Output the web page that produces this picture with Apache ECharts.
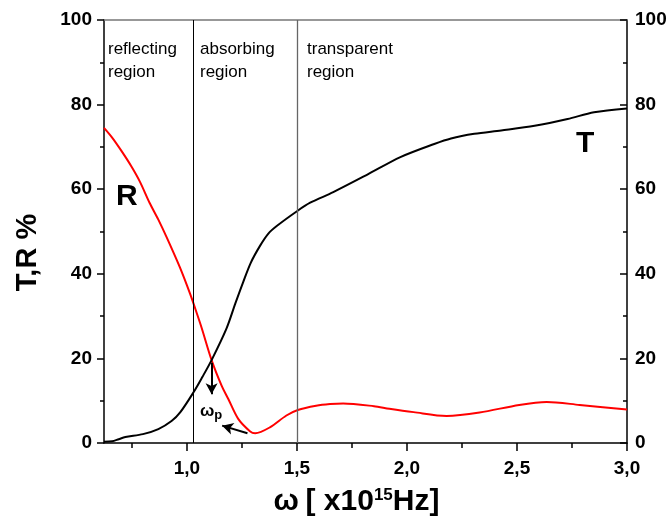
<!DOCTYPE html>
<html><head><meta charset="utf-8">
<script src="https://cdn.jsdelivr.net/npm/echarts@6/dist/echarts.min.js"></script>
<style>html,body{margin:0;padding:0;background:#fff}#c{width:672px;height:522px}</style>
</head><body><div id="c"></div>
<script>
// Transmission T (black)
const tX = [0.623,0.66,0.69,0.72,0.80,0.87,0.93,0.97,1.03,1.07,1.112,1.18,1.22,1.256,1.29,1.332,1.37,1.408,1.50,1.56,1.665,1.818,1.97,2.124,2.2,2.306,2.428,2.58,2.73,2.85,3.0];
const tY = [0.3,0.4,0.9,1.4,2.1,3.3,5.2,7.3,12.0,15.6,19.6,27.1,33.0,38.1,42.6,46.6,49.5,51.3,54.8,56.8,59.3,63.4,67.6,70.7,72.0,73.1,73.9,75.0,76.6,78.2,79.1];
// Reflection R (red)
const rX = [0.623,0.66,0.703,0.745,0.786,0.83,0.87,0.908,0.968,1.014,1.044,1.067,1.112,1.158,1.188,1.233,1.286,1.31,1.377,1.452,1.504,1.587,1.65,1.71,1.85,1.92,2.03,2.18,2.33,2.51,2.635,2.785,3.0];
const rY = [74.5,72.2,69.0,65.6,61.8,56.8,52.8,48.6,41.5,35.3,30.8,27.2,19.6,13.5,10.4,5.7,2.8,2.3,3.7,6.5,7.8,8.8,9.2,9.35,8.7,8.1,7.3,6.4,7.2,9.0,9.7,9.0,7.9];
const xMajorTicks = [1.0,1.5,2.0,2.5,3.0];
const xMinorTicks = [0.75,1.25,1.75,2.25,2.75];
const regionBounds = [1.033,1.5];
const regionNames = ['reflecting\nregion','absorbing\nregion','transparent\nregion'];
const plasmaArrow = [[1.112,19.0],[1.112,11.5]];
const minArrow = [[1.275,2.3],[1.16,4.1]];

const FONT = 'Liberation Sans, Arial, sans-serif';
const chart = echarts.init(document.getElementById('c'));
const xMin = 0.623, xMax = 3.0;
const lbl = {color:'#000', fontFamily:FONT, fontWeight:'bold', fontSize:19};

chart.setOption({
  animation:false,
  backgroundColor:'#fff',
  grid:{left:104,right:45,top:20,bottom:76},
  xAxis:[
    {type:'value',min:xMin,max:xMax,position:'bottom',
     axisLine:{lineStyle:{color:'#000',width:1.5}},
     axisTick:{customValues:xMajorTicks,length:8,lineStyle:{color:'#000',width:1.5}},
     axisLabel:Object.assign({customValues:xMajorTicks,margin:16,formatter:v=>v.toFixed(1).replace('.',',')},lbl),
     splitLine:{show:false},
     name:'{w|ω}  {b|[ x10}{s|15}{b|Hz]}',nameLocation:'middle',nameGap:44,
     nameTextStyle:{padding:[0,18,0,0],rich:{
       w:{fontFamily:FONT,fontWeight:'bold',fontSize:30,color:'#000'},
       b:{fontFamily:FONT,fontWeight:'bold',fontSize:30,color:'#000'},
       s:{fontFamily:FONT,fontWeight:'bold',fontSize:17,color:'#000',verticalAlign:'top'}}}},
    {type:'value',min:xMin,max:xMax,position:'bottom',
     axisLine:{show:false},
     axisTick:{customValues:xMinorTicks,length:5,lineStyle:{color:'#000',width:1.5}},
     axisLabel:{show:false},splitLine:{show:false}},
    {type:'value',min:xMin,max:xMax,position:'top',
     axisLine:{lineStyle:{color:'#777',width:1.5}},
     axisTick:{show:false},axisLabel:{show:false},splitLine:{show:false}}
  ],
  yAxis:[
    {type:'value',min:0,max:100,interval:20,position:'left',
     axisLine:{show:true,lineStyle:{color:'#000',width:1.5}},
     axisTick:{show:true,length:7,lineStyle:{color:'#000',width:1.5}},
     minorTick:{show:true,splitNumber:2,length:4,lineStyle:{color:'#000',width:1.5}},
     axisLabel:Object.assign({margin:12},lbl),
     splitLine:{show:false},
     name:'T,R %',nameLocation:'middle',nameGap:62,
     nameTextStyle:{fontFamily:FONT,fontWeight:'bold',fontSize:29,color:'#000',padding:[0,42,0,0]}},
    {type:'value',min:0,max:100,interval:20,position:'right',
     axisLine:{show:true,lineStyle:{color:'#000',width:1.5}},
     axisTick:{show:true,inside:true,length:7,lineStyle:{color:'#000',width:1.5}},
     minorTick:{show:true,splitNumber:2,length:4,lineStyle:{color:'#000',width:1.5}},
     axisLabel:Object.assign({margin:8},lbl),
     splitLine:{show:false}}
  ],
  series:[
    {type:'line',name:'T',data:tX.map((x,i)=>[x,tY[i]]),smooth:0.3,showSymbol:false,
     lineStyle:{color:'#000',width:2},itemStyle:{color:'#000'},z:3,
     markLine:{silent:true,symbol:['none','arrow'],symbolSize:[9,11],animation:false,
       lineStyle:{color:'#000',width:2,type:'solid'},label:{show:false},
       data:[[{coord:plasmaArrow[0]},{coord:plasmaArrow[1]}],[{coord:minArrow[0]},{coord:minArrow[1]}]]}},
    {type:'line',name:'R',data:rX.map((x,i)=>[x,rY[i]]),smooth:0.3,showSymbol:false,
     lineStyle:{color:'#ff0000',width:2},itemStyle:{color:'#ff0000'},z:2,
     markLine:{silent:true,symbol:['none','none'],animation:false,
       lineStyle:{color:'#000',width:1,type:'solid'},label:{show:false},
       data:regionBounds.map((v,i)=>({xAxis:v,lineStyle:{color:i===0?'#000':'#666',width:i===0?1:1.3}}))}}
  ],
  graphic:[
    {type:'text',left:108,top:38,style:{text:regionNames[0],font:'17px '+FONT,fill:'#000',lineHeight:23}},
    {type:'text',left:200,top:38,style:{text:regionNames[1],font:'17px '+FONT,fill:'#000',lineHeight:23}},
    {type:'text',left:307,top:38,style:{text:regionNames[2],font:'17px '+FONT,fill:'#000',lineHeight:23}},
    {type:'text',left:116,top:182,style:{text:'R',font:'bold 30px '+FONT,fill:'#000'}},
    {type:'text',left:576,top:129,style:{text:'T',font:'bold 30px '+FONT,fill:'#000'}},
    {type:'text',left:200,top:403,style:{text:'{w|ω}{p|p}',rich:{
       w:{font:'bold 17px '+FONT,fill:'#000'},
       p:{font:'bold 13px '+FONT,fill:'#000',verticalAlign:'bottom',padding:[8,0,0,0]}}}}
  ]
});
</script></body></html>
